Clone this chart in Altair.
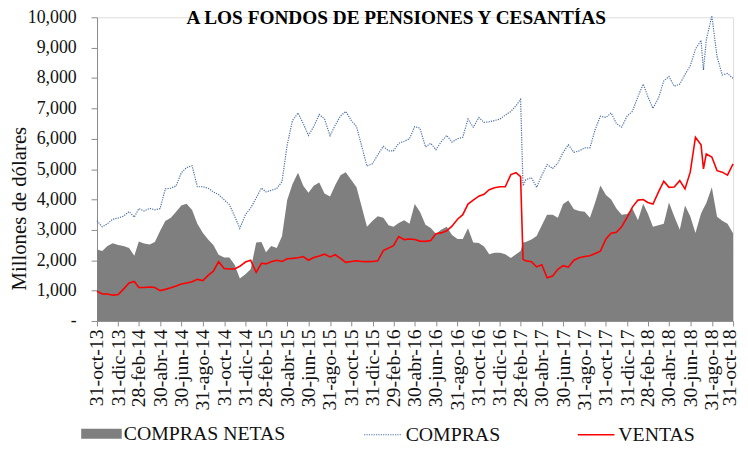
import json
import altair as alt
import pandas as pd

# ---------------- data ----------------
fechas = [
    "2013-10-31", "2013-11-15", "2013-11-30", "2013-12-15", "2013-12-31",
    "2014-01-15", "2014-01-31", "2014-02-15", "2014-02-28", "2014-03-15", "2014-03-31",
    "2014-04-15", "2014-04-30", "2014-05-15", "2014-05-31", "2014-06-15", "2014-06-30",
    "2014-07-15", "2014-07-31", "2014-08-15", "2014-08-31", "2014-09-15", "2014-09-30",
    "2014-10-15", "2014-10-31", "2014-11-15", "2014-11-30", "2014-12-15", "2014-12-31",
    "2015-01-15", "2015-01-31", "2015-02-15", "2015-02-28", "2015-03-15", "2015-03-31",
    "2015-04-15", "2015-04-30", "2015-05-15", "2015-05-31", "2015-06-15", "2015-06-30",
    "2015-07-15", "2015-07-31", "2015-08-15", "2015-08-31", "2015-09-15", "2015-09-30",
    "2015-10-15", "2015-10-31", "2015-11-15", "2015-11-30", "2015-12-15", "2015-12-31",
    "2016-01-15", "2016-01-31", "2016-02-15", "2016-02-29", "2016-03-15", "2016-03-31",
    "2016-04-15", "2016-04-30", "2016-05-15", "2016-05-31", "2016-06-15", "2016-06-30",
    "2016-07-15", "2016-07-31", "2016-08-15", "2016-08-31", "2016-09-15", "2016-09-30",
    "2016-10-15", "2016-10-31", "2016-11-15", "2016-11-30", "2016-12-15", "2016-12-31",
    "2017-01-15", "2017-01-31", "2017-02-15", "2017-02-28", "2017-03-07", "2017-03-15",
    "2017-03-31", "2017-04-15", "2017-04-30", "2017-05-15", "2017-05-31", "2017-06-15",
    "2017-06-30", "2017-07-15", "2017-07-31", "2017-08-15", "2017-08-31", "2017-09-15",
    "2017-09-30", "2017-10-15", "2017-10-31", "2017-11-15", "2017-11-30", "2017-12-15",
    "2017-12-31", "2018-01-15", "2018-01-31", "2018-02-15", "2018-02-28", "2018-03-15",
    "2018-03-31", "2018-04-15", "2018-04-30", "2018-05-15", "2018-05-31", "2018-06-15",
    "2018-06-30", "2018-07-15", "2018-07-31", "2018-08-07", "2018-08-15", "2018-08-31",
    "2018-09-15", "2018-09-30", "2018-10-15", "2018-10-31",
]

compras = [
    3300, 3100, 3200, 3350, 3390,
    3450, 3600, 3420, 3700, 3620, 3710,
    3660, 3700, 4350, 4370, 4450, 4880,
    5050, 5110, 4420, 4420, 4370, 4250,
    4160, 3990, 3830, 3450, 3050, 3500,
    3720, 4050, 4380, 4250, 4300, 4360,
    4590, 5800, 6600, 6850, 6500, 6110,
    6400, 6800, 6650, 6100, 6450, 6750,
    6900, 6600, 6400, 5750, 5100, 5180,
    5470, 5750, 5600, 5600, 5850, 5920,
    6000, 6400, 6350, 5730, 5850, 5640,
    5900, 6110, 5890, 6000, 6050, 6650,
    6380, 6700, 6540, 6560, 6600, 6650,
    6780, 6900, 7090, 7300, 4450, 4650,
    4720, 4400, 4800, 5150, 5020, 5200,
    5550, 5800, 5550, 5600, 5700, 5700,
    6300, 6740, 6700, 6850, 6500, 6380,
    6750, 6900, 7390, 7800, 7400, 7000,
    7350, 7900, 8050, 7730, 7800, 8120,
    8400, 8950, 9240, 8260, 9250, 10050,
    8700, 8100, 8150, 7990,
]

ventas = [
    980, 890, 890, 850, 870,
    1050, 1250, 1300, 1100, 1100, 1120,
    1100, 1000, 1040, 1090, 1150, 1220,
    1250, 1290, 1370, 1330, 1500, 1640,
    1950, 1730, 1710, 1710, 1800, 1940,
    2000, 1600, 1900, 1880, 1950, 2000,
    1960, 2050, 2060, 2080, 2120, 2000,
    2090, 2140, 2200, 2110, 2180, 2060,
    1930, 1960, 1980, 1960, 1955, 1960,
    1980, 2320, 2400, 2480, 2780, 2680,
    2700, 2680, 2630, 2620, 2650, 2870,
    2900, 2970, 3120, 3350, 3500, 3850,
    3980, 4110, 4170, 4320, 4390, 4420,
    4420, 4820, 4880, 4750, 2030, 1980,
    1950, 1780, 1850, 1420, 1480, 1700,
    1820, 1770, 2000, 2080, 2120, 2150,
    2220, 2300, 2700, 2890, 2920, 3100,
    3420, 3750, 3980, 4000, 3900, 3850,
    4250, 4600, 4400, 4410, 4620, 4350,
    4900, 6050, 5800, 5010, 5500, 5400,
    4950, 4900, 4800, 5170,
]

compras_netas = [
    2350, 2300, 2470, 2560, 2500,
    2470, 2400, 2150, 2620, 2550, 2520,
    2600, 2960, 3290, 3400, 3600, 3800,
    3860, 3650, 3200, 2900, 2680, 2500,
    2180, 2090, 2090, 1850, 1400, 1540,
    1700, 2580, 2600, 2260, 2470, 2400,
    2790, 3980, 4500, 4880, 4450, 4220,
    4450, 4560, 4200, 4100, 4480, 4800,
    4900, 4640, 4400, 3750, 3100, 3300,
    3450, 3400, 3150, 3100, 3230, 3320,
    3200, 3850, 3600, 3170, 3060, 2870,
    3000, 3100, 2830, 2700, 2700, 3050,
    2580, 2570, 2450, 2200, 2250, 2250,
    2200, 2070, 2200, 2300, 2580, 2600,
    2680, 2800, 3150, 3500, 3500, 3400,
    3850, 3970, 3680, 3620, 3600, 3400,
    3900, 4460, 4150, 4000, 3700, 3500,
    3520, 3700, 3320, 3860, 3550, 3100,
    3150, 3200, 3900, 3450, 3000, 3800,
    3450, 2900, 3540, 3700, 3880, 4400,
    3430, 3300, 3200, 2890,
]

tick_fechas = [
    "2013-10-31", "2013-12-31", "2014-02-28", "2014-04-30", "2014-06-30", "2014-08-31",
    "2014-10-31", "2014-12-31", "2015-02-28", "2015-04-30", "2015-06-30", "2015-08-31",
    "2015-10-31", "2015-12-31", "2016-02-29", "2016-04-30", "2016-06-30", "2016-08-31",
    "2016-10-31", "2016-12-31", "2017-02-28", "2017-04-30", "2017-06-30", "2017-08-31",
    "2017-10-31", "2017-12-31", "2018-02-28", "2018-04-30", "2018-06-30", "2018-08-31",
    "2018-10-31",
]
meses = ["ene", "feb", "mar", "abr", "may", "jun", "jul", "ago", "sep", "oct", "nov", "dic"]
y_ticks = [0, 1000, 2000, 3000, 4000, 5000, 6000, 7000, 8000, 9000, 10000]

titulo = "A LOS FONDOS DE PENSIONES Y CESANTÍAS"
y_titulo = "Millones de dólares"

# ---------------- chart ----------------
df = pd.DataFrame({
    "fecha": fechas,
    "COMPRAS NETAS": compras_netas,
    "COMPRAS": compras,
    "VENTAS": ventas,
})


def ms(d):
    return int(pd.Timestamp(d, tz="UTC").value // 10**6)


tick_ms = [ms(d) for d in tick_fechas]
x_domain = [ms(tick_fechas[0]), ms(tick_fechas[-1])]

FONT = "Liberation Serif"
TXT = "#111111"
AXC = "#8c8c8c"

label_expr = (
    "utcdate(datum.value) + '-' + " + json.dumps(meses)
    + "[utcmonth(datum.value)] + '-' + (utcyear(datum.value) % 100)"
)

x_enc = alt.X(
    "fecha:T",
    scale=alt.Scale(type="utc", domain=x_domain),
    axis=alt.Axis(
        values=tick_ms, labelExpr=label_expr, title=None, grid=False,
        labelAngle=-90, labelFont=FONT, labelFontSize=20, labelColor=TXT,
        labelPadding=3, tickSize=5, tickColor=AXC, domainColor=AXC,
        labelOverlap=False, labelBound=False, labelFlush=False,
        labelOffset={"condition": {"test": f"datum.value >= {tick_ms[-1]}", "value": -4},
                     "value": 0},
    ),
)

y_enc = alt.Y(
    "valor:Q",
    scale=alt.Scale(domain=[0, 10000], nice=False),
    axis=alt.Axis(
        values=y_ticks,
        labelExpr="datum.value == 0 ? '-' : format(datum.value, ',')",
        title=y_titulo, titleFont=FONT, titleFontSize=21, titleFontWeight="normal",
        titleColor=TXT, titleAngle=270, titleX=-72, titleY=193,
        titleBaseline="alphabetic", titleAlign="center",
        labelFont=FONT, labelFontSize=18, labelColor=TXT, labelPadding=15,
        tickSize=6, tickColor=AXC, domainColor=AXC, grid=False,
    ),
)


def legend(x, y, symbol_type, size, stroke_width, dash=None, offset=3):
    kw = dict(
        orient="none", legendX=x, legendY=y, title=None, padding=0,
        labelFont=FONT, labelFontSize=20, labelColor=TXT, labelOffset=offset,
        labelLimit=400,
        symbolType=symbol_type, symbolSize=size, symbolStrokeWidth=stroke_width,
    )
    if dash is not None:
        kw["symbolDash"] = dash
    return alt.Legend(**kw)


base = alt.Chart(df)

area = base.transform_fold(["COMPRAS NETAS"], as_=["serie", "valor"]).mark_area(
    color="#7f7f7f", opacity=1
).encode(
    x=x_enc, y=y_enc,
    color=alt.Color(
        "serie:N",
        scale=alt.Scale(domain=["COMPRAS NETAS"], range=["#7f7f7f"]),
        legend=legend(-16, 400.5, "M-1,-0.25H1V0.25H-1Z", 1681, 0, offset=2),
    ),
)

linea_compras = base.transform_fold(["COMPRAS"], as_=["serie", "valor"]).mark_line(
    strokeWidth=1.2, strokeDash=[1.2, 1.2]
).encode(
    x=x_enc, y=y_enc,
    color=alt.Color(
        "serie:N",
        scale=alt.Scale(domain=["COMPRAS"], range=["#4a6ea9"]),
        legend=legend(269, 402, "stroke", 1444, 1.2, dash=[1.2, 1.2]),
    ),
)

linea_ventas = base.transform_fold(["VENTAS"], as_=["serie", "valor"]).mark_line(
    strokeWidth=1.6
).encode(
    x=x_enc, y=y_enc,
    color=alt.Color(
        "serie:N",
        scale=alt.Scale(domain=["VENTAS"], range=["#ff0000"]),
        legend=legend(485, 402.5, "stroke", 1369, 1.6),
    ),
)

titulo_txt = alt.Chart(pd.DataFrame({"t": [titulo]})).mark_text(
    font=FONT, fontSize=19.5, fontWeight="bold", color="#000000",
    align="center", baseline="alphabetic",
).encode(x=alt.value(302.5), y=alt.value(7), text="t:N")

chart = alt.layer(area, linea_compras, linea_ventas, titulo_txt).resolve_scale(
    color="independent"
).properties(
    width=643,
    height=307,
    autosize=alt.AutoSizeParams(type="none"),
    padding={"left": 90, "top": 7, "right": 7, "bottom": 123},
).configure_view(stroke=None).configure(background="white")

chart.save("out.html", embed_options={"renderer": "svg", "actions": False})
